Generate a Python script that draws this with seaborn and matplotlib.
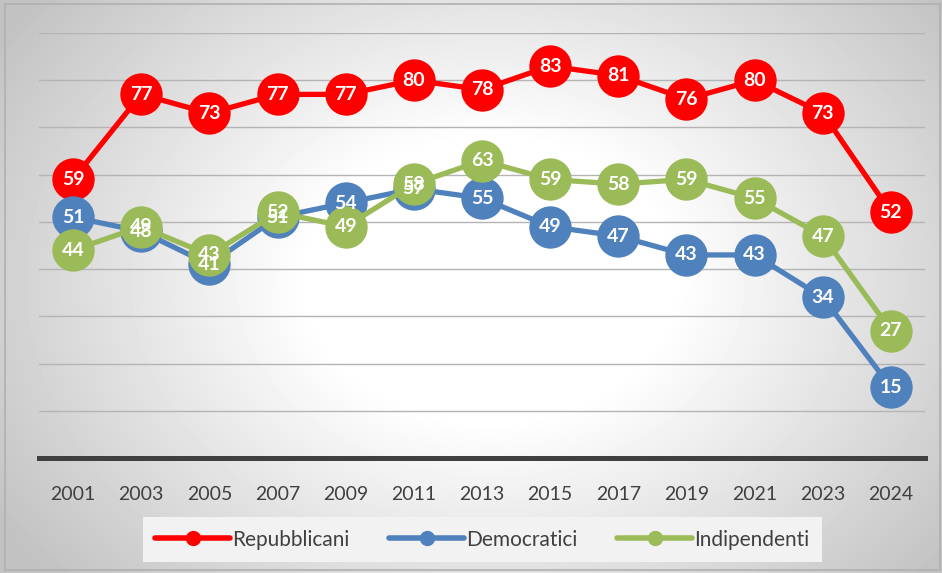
import numpy as np
import pandas as pd
import seaborn as sns
import matplotlib.pyplot as plt
from matplotlib.lines import Line2D
from matplotlib.patches import Rectangle

# data
years = ["2001", "2003", "2005", "2007", "2009", "2011", "2013",
         "2015", "2017", "2019", "2021", "2023", "2024"]
repubblicani = [59, 77, 73, 77, 77, 80, 78, 83, 81, 76, 80, 73, 52]
democratici = [51, 48, 41, 51, 54, 57, 55, 49, 47, 43, 43, 34, 15]
indipendenti = [44, 49, 43, 52, 49, 58, 63, 59, 58, 59, 55, 47, 27]

series = ["Repubblicani", "Democratici", "Indipendenti"]
colors = ["#FF0000", "#4F81BD", "#9BBB59"]

df = pd.DataFrame({
    "anno": years * 3,
    "valore": repubblicani + democratici + indipendenti,
    "gruppo": [s for s in series for _ in years],
})

sns.set_style("white")
plt.rcParams["font.family"] = ["Lato", "DejaVu Sans"]

fig = plt.figure(figsize=(9.42, 5.73), dpi=100)

# radial gradient background
bg = fig.add_axes([0, 0, 1, 1], zorder=0)
yy, xx = np.mgrid[0:573, 0:942]
r = np.sqrt(((xx - 490) / 520.0) ** 2 + ((yy - 280) / 400.0) ** 2)
shade = np.clip(1.0 - 0.31 * np.maximum(r - 0.35, 0), 0.76, 1.0)
bg.imshow(shade, cmap="gray", vmin=0, vmax=1, aspect="auto",
          extent=[0, 1, 0, 1], origin="upper")
bg.set_xlim(0, 1)
bg.set_ylim(0, 1)
bg.axis("off")
fig.patches.append(Rectangle((5 / 942, 3 / 573), 935 / 942, 566 / 573,
                             transform=fig.transFigure, fill=False,
                             edgecolor="#b0b0b0", linewidth=1.2, zorder=5))

ax = fig.add_axes([0.0414, 0.2007, 0.9406, 0.7417], zorder=1)
ax.set_facecolor("none")

sns.lineplot(data=df, x="anno", y="valore", hue="gruppo", palette=colors,
             hue_order=series, linewidth=3.8, marker="o", markersize=30.5,
             markeredgewidth=0, ax=ax, legend=False, sort=False)

for vals in [repubblicani, democratici, indipendenti]:
    for i, v in enumerate(vals):
        ax.text(i, v, str(v), ha="center", va="center", color="white",
                fontsize=14, fontweight="bold", zorder=10)

ax.set_xlim(-0.5, len(years) - 0.5)
ax.set_ylim(0, 90)
ax.set_yticks(range(10, 100, 10))
ax.set_yticklabels([])
ax.yaxis.grid(True, color="#b4b4b4", linewidth=1)
ax.set_axisbelow(True)
ax.tick_params(axis="both", length=0)
ax.tick_params(axis="x", pad=20, labelsize=14, labelcolor="#404040")
ax.set_xlabel("")
ax.set_ylabel("")
for side in ["top", "left", "right"]:
    ax.spines[side].set_visible(False)
ax.spines["bottom"].set_color("#404040")
ax.spines["bottom"].set_linewidth(3.6)

handles = [Line2D([0], [0], color=c, linewidth=4, marker="o", markersize=10)
           for c in colors]
leg = fig.legend(handles, series, loc="center", bbox_to_anchor=(0.512, 0.058),
                 ncol=3, frameon=True, fontsize=15, handlelength=3.6,
                 handletextpad=0.1, columnspacing=1.9, borderpad=0.6,
                 borderaxespad=0, fancybox=False, labelcolor="#404040")
leg.get_frame().set_facecolor("#f2f2f2")
leg.get_frame().set_edgecolor("none")
leg.get_frame().set_alpha(1)

fig.savefig("out.png", dpi=100)
